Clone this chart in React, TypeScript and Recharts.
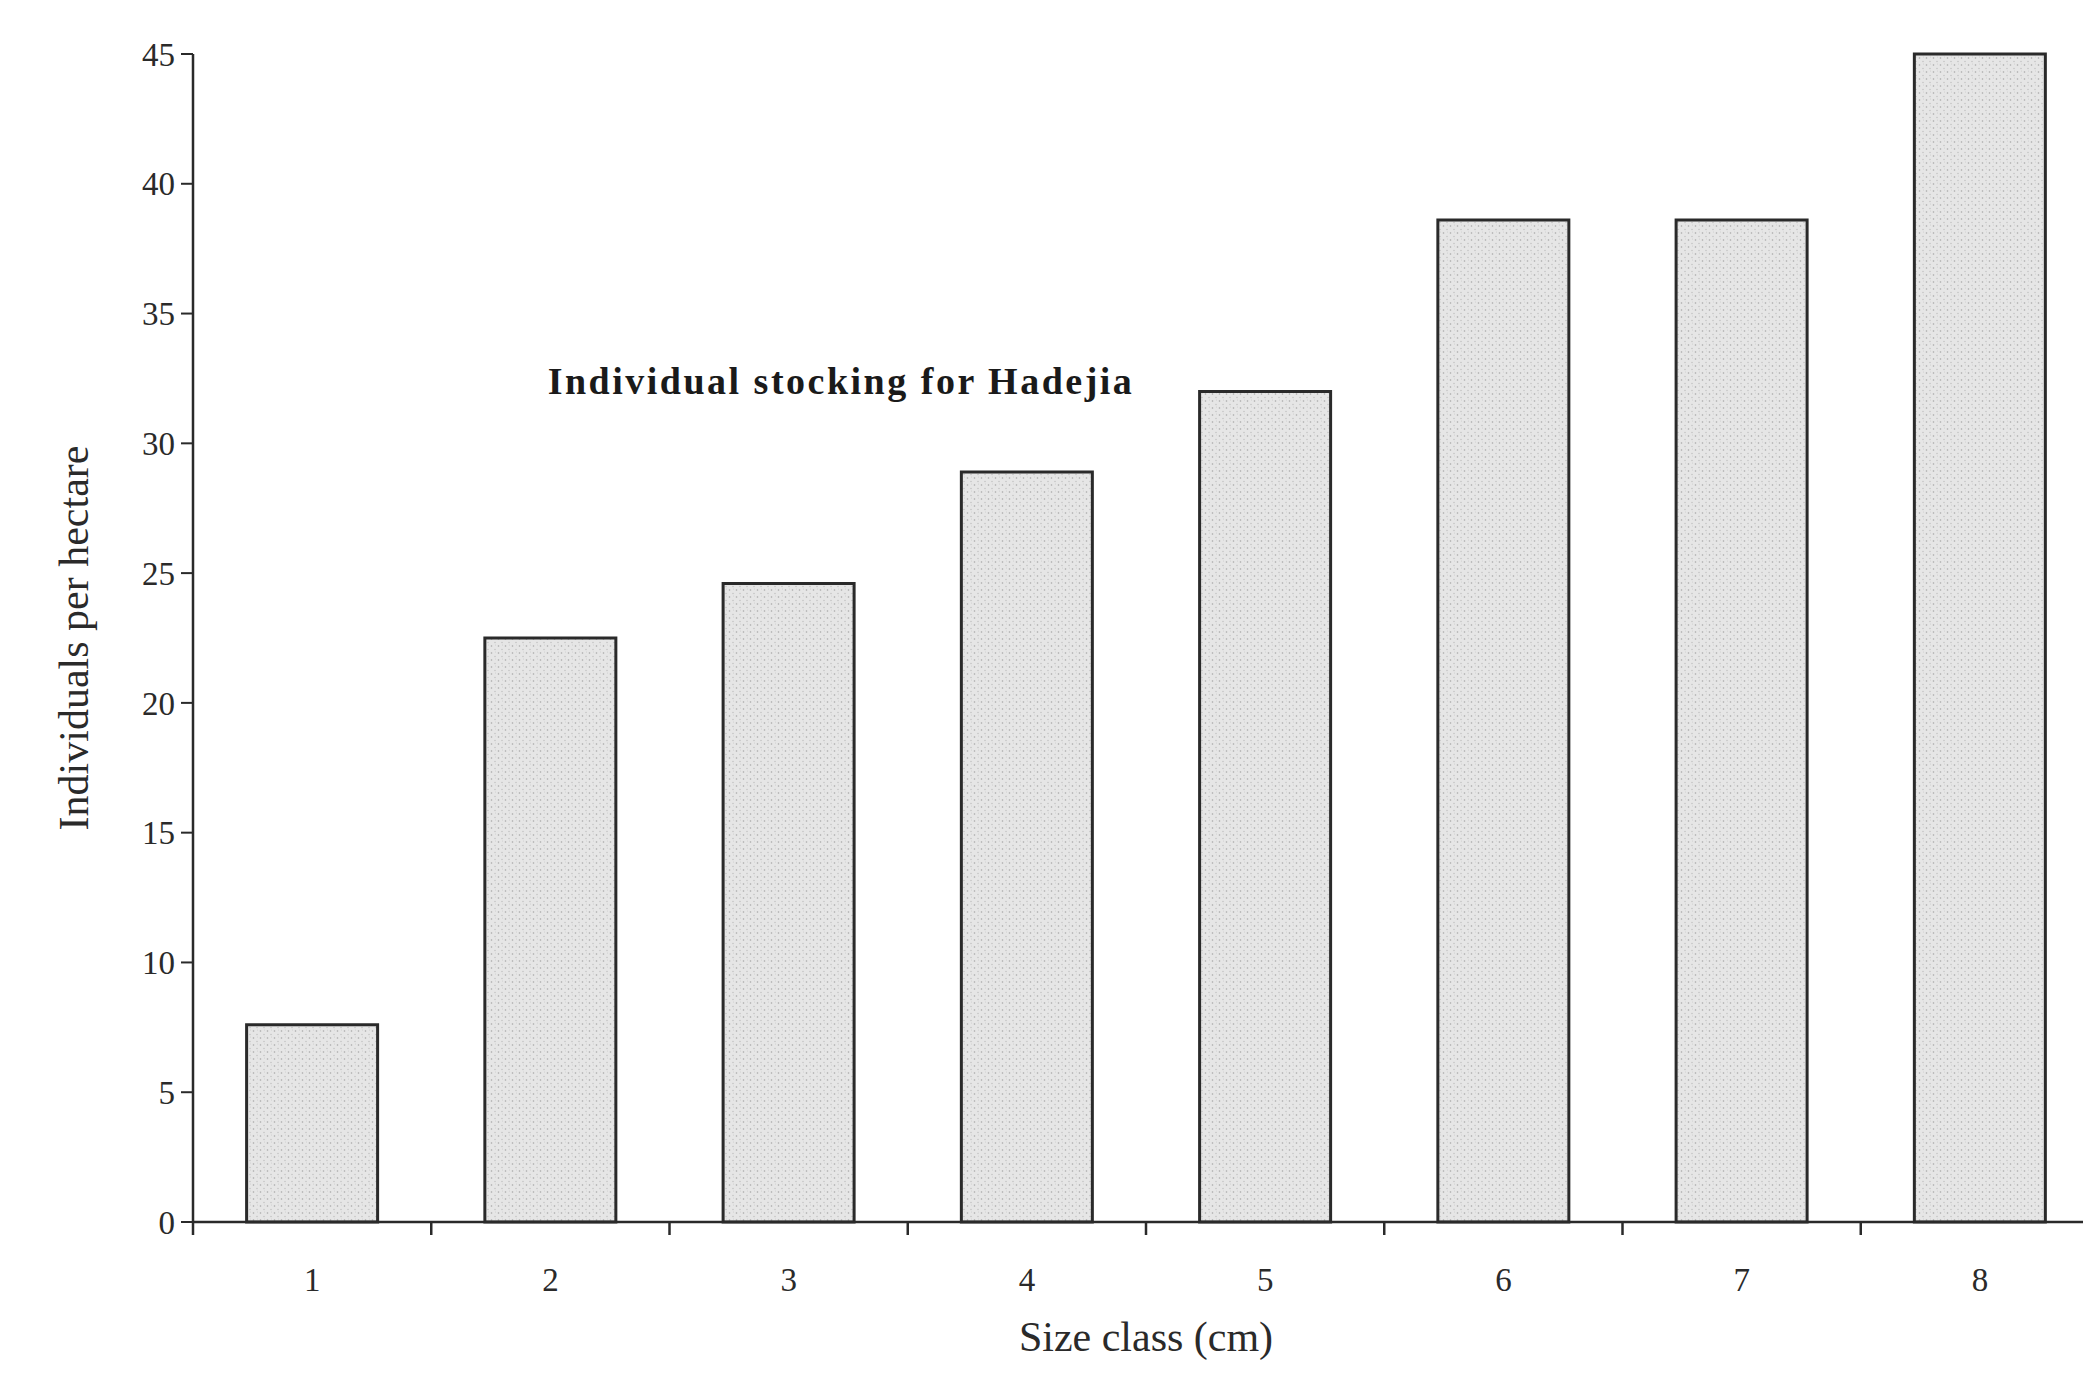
import React from 'react';
import { BarChart, Bar, XAxis, YAxis, Label } from 'recharts';

const SIZE_CLASSES = [1, 2, 3, 4, 5, 6, 7, 8];
const INDIVIDUALS = [7.6, 22.5, 24.6, 28.9, 32.0, 38.6, 38.6, 45.0];
const Y_TICKS = [0, 5, 10, 15, 20, 25, 30, 35, 40, 45];
const X_BOUNDARIES = [0.5, 1.5, 2.5, 3.5, 4.5, 5.5, 6.5, 7.5, 8.5];

const data = SIZE_CLASSES.map((size, i) => ({ size, value: INDIVIDUALS[i] }));

const FONT = '"Liberation Serif", "DejaVu Serif", serif';
const INK = '#2a2a2a';

// boundary ticks only need the line, no text
const NoLabel = () => <g />;

const App: React.FC = () => {
  return (
    <div
      style={{
        position: 'absolute',
        left: 0,
        top: 0,
        width: 2083,
        height: 1379,
        overflow: 'hidden',
        background: '#ffffff',
        fontFamily: FONT,
      }}
    >
      <BarChart
        width={2104}
        height={1379}
        data={data}
        margin={{ top: 54, right: 5, bottom: 155, left: 0 }}
        barCategoryGap="22.5%"
      >
        <defs>
          <pattern id="stipple" width="7" height="7" patternUnits="userSpaceOnUse">
            <rect width="7" height="7" fill="#e6e6e6" />
            <circle cx="1.5" cy="2" r="0.8" fill="#a8a8a8" />
            <circle cx="5" cy="5.5" r="0.7" fill="#bdbdbd" />
            <circle cx="5.5" cy="1" r="0.5" fill="#cbcbcb" />
          </pattern>
        </defs>
        <XAxis
          xAxisId="cat"
          dataKey="size"
          type="category"
          height={1}
          tickLine={false}
          tickSize={0}
          tickMargin={46}
          interval={0}
          axisLine={{ stroke: INK, strokeWidth: 2.5 }}
          tick={{ fill: INK, fontSize: 33, fontFamily: FONT }}
        >
          <Label
            value="Size class (cm)"
            position="bottom"
            offset={98}
            style={{ fill: INK, fontSize: 42, fontFamily: FONT }}
          />
        </XAxis>
        <XAxis
          xAxisId="ticks"
          dataKey="size"
          type="number"
          domain={[0.5, 8.5]}
          allowDataOverflow
          ticks={X_BOUNDARIES}
          interval={0}
          height={1}
          axisLine={false}
          tick={NoLabel}
          tickSize={12}
          tickLine={{ stroke: INK, strokeWidth: 2.5 }}
        />
        <YAxis
          width={193}
          domain={[0, 45]}
          ticks={Y_TICKS}
          interval={0}
          tickSize={12}
          tickMargin={6}
          axisLine={{ stroke: INK, strokeWidth: 2.5 }}
          tickLine={{ stroke: INK, strokeWidth: 2 }}
          tick={{ fill: INK, fontSize: 33, fontFamily: FONT }}
        >
          <Label
            value="Individuals per hectare"
            angle={-90}
            position="insideLeft"
            offset={73}
            style={{ fill: INK, fontSize: 42, fontFamily: FONT, textAnchor: 'middle' }}
          />
        </YAxis>
        <Bar
          xAxisId="cat"
          dataKey="value"
          fill="url(#stipple)"
          stroke={INK}
          strokeWidth={3}
          isAnimationActive={false}
        />
      </BarChart>
      <div
        style={{
          position: 'absolute',
          left: 441,
          top: 359,
          width: 800,
          textAlign: 'center',
          fontSize: 38,
          lineHeight: '44px',
          fontWeight: 'bold',
          color: '#1a1a1a',
          letterSpacing: '2.5px',
        }}
      >
        Individual stocking for Hadejia
      </div>
    </div>
  );
};

export default App;
